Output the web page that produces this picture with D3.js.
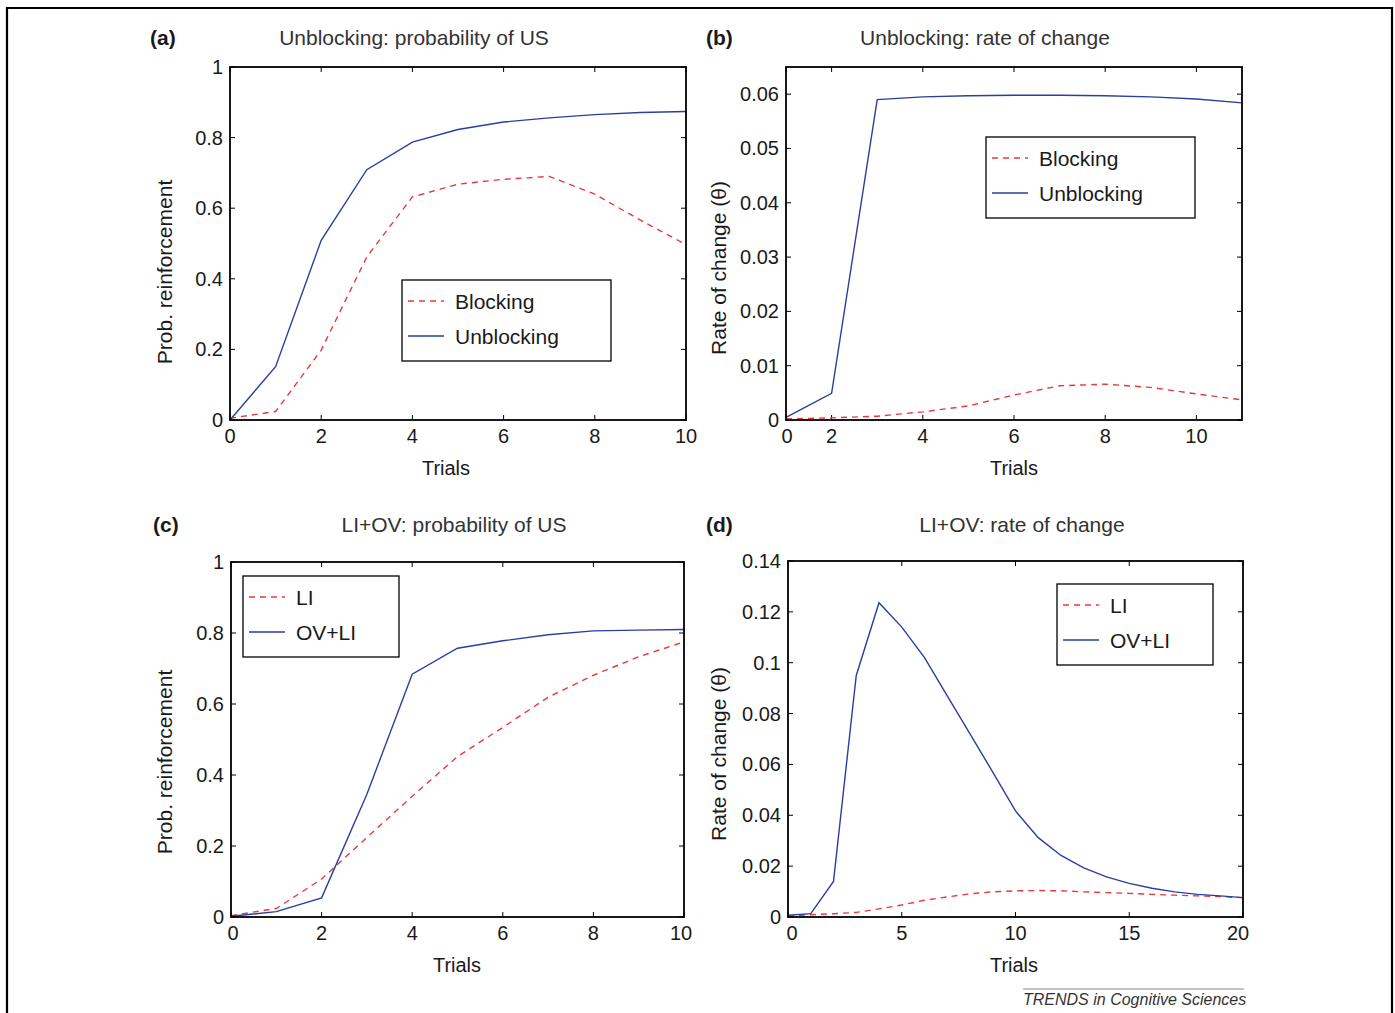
<!DOCTYPE html>
<html><head><meta charset="utf-8">
<script src="https://cdn.jsdelivr.net/npm/d3@7"></script>
<style>
body{margin:0;background:#fff;}
svg text{font-family:"Liberation Sans",Arial,Helvetica,sans-serif;}
</style></head>
<body>
<svg id="chart" width="1395" height="1013"></svg>
<script>
// ---------- DATA ----------
const trialsA = [0,1,2,3,4,5,6,7,8,9,10];
const blockingProb   = [0.005,0.024,0.198,0.462,0.632,0.668,0.682,0.690,0.640,0.566,0.497];
const unblockingProb = [0.000,0.151,0.509,0.709,0.787,0.823,0.844,0.856,0.865,0.871,0.874];

const trialsB = [1,2,3,4,5,6,7,8,9,10,11];
const blockingRate   = [0.0002,0.0004,0.0007,0.0015,0.0026,0.0046,0.0063,0.0066,0.0060,0.0048,0.0037];
const unblockingRate = [0.0005,0.0049,0.0590,0.0595,0.0597,0.0598,0.0598,0.0597,0.0595,0.0591,0.0584];

const trialsC = [0,1,2,3,4,5,6,7,8,9,10];
const liProb   = [0.004,0.024,0.107,0.224,0.340,0.452,0.534,0.619,0.681,0.733,0.775];
const ovliProb = [0.002,0.015,0.054,0.346,0.684,0.757,0.778,0.795,0.806,0.808,0.810];

const trialsD = [0,1,2,3,4,5,6,7,8,9,10,11,12,13,14,15,16,17,18,19,20];
const liRate   = [0.0003,0.0009,0.0013,0.0018,0.0032,0.0047,0.0066,0.0079,0.0091,0.0099,0.0103,0.0104,0.0103,0.0099,0.0096,0.0093,0.0089,0.0086,0.0083,0.0080,0.0076];
const ovliRate = [0.0007,0.0013,0.0140,0.0950,0.1236,0.1140,0.1020,0.0870,0.0720,0.0570,0.0417,0.0312,0.0242,0.0193,0.0158,0.0132,0.0113,0.0099,0.0089,0.0083,0.0076];

const xTicksA = [0,2,4,6,8,10];
const yTicksA = [0,0.2,0.4,0.6,0.8,1];
const yTickLabelsA = ["0","0.2","0.4","0.6","0.8","1"];
const xTicksB = [1,2,4,6,8,10];
const xTickLabelsB = ["0","2","4","6","8","10"];
const yTicksB = [0,0.01,0.02,0.03,0.04,0.05,0.06];
const yTickLabelsB = ["0","0.01","0.02","0.03","0.04","0.05","0.06"];
const xTicksD = [0,5,10,15,20];
const yTicksD = [0,0.02,0.04,0.06,0.08,0.1,0.12,0.14];
const yTickLabelsD = ["0","0.02","0.04","0.06","0.08","0.1","0.12","0.14"];

const RED = "#e8383d", BLUE = "#2a3f9e", TXT = "#1a1a1a";

const svg = d3.select("#chart");

// outer frame (top, left, right)
svg.append("path").attr("d","M7,1013 L7,8 L1392,8 L1392,1013")
  .attr("fill","none").attr("stroke","#000").attr("stroke-width",2.2);

function panel(cfg){
  const g = svg.append("g");
  const x = d3.scaleLinear().domain(cfg.xDomain).range([cfg.left,cfg.right]);
  const y = d3.scaleLinear().domain(cfg.yDomain).range([cfg.bottom,cfg.top]);

  const tl = 5;
  const xTickLabels = cfg.xTickLabels || cfg.xTicks.map(String);
  cfg.xTicks.forEach(v=>{
    const px = x(v);
    g.append("line").attr("x1",px).attr("x2",px).attr("y1",cfg.bottom).attr("y2",cfg.bottom-tl).attr("stroke","#000").attr("stroke-width",1);
    g.append("line").attr("x1",px).attr("x2",px).attr("y1",cfg.top).attr("y2",cfg.top+tl).attr("stroke","#000").attr("stroke-width",1);
  });
  cfg.yTicks.forEach(v=>{
    const py = y(v);
    g.append("line").attr("x1",cfg.left).attr("x2",cfg.left+tl).attr("y1",py).attr("y2",py).attr("stroke","#000").attr("stroke-width",1);
    g.append("line").attr("x1",cfg.right).attr("x2",cfg.right-tl).attr("y1",py).attr("y2",py).attr("stroke","#000").attr("stroke-width",1);
  });

  const n = cfg.xTicks.length;
  cfg.xTicks.forEach((v,i)=>{
    let dx = 0;
    if(i===0) dx = cfg.firstDx||0;
    if(i===n-1) dx = cfg.lastDx||0;
    g.append("text").attr("x",x(v)+dx).attr("y",cfg.bottom+23).attr("text-anchor","middle")
      .attr("font-size",20).attr("fill",TXT).text(xTickLabels[i]);
  });
  cfg.yTicks.forEach((v,i)=>{
    g.append("text").attr("x",cfg.left-7).attr("y",y(v)+7).attr("text-anchor","end")
      .attr("font-size",20).attr("fill",TXT).text(cfg.yTickLabels[i]);
  });

  const line = d3.line().x(d=>x(d[0])).y(d=>y(d[1]));
  cfg.series.forEach(s=>{
    g.append("path").datum(s.xs.map((xv,i)=>[xv,s.ys[i]]))
      .attr("d",line).attr("fill","none").attr("stroke",s.color)
      .attr("stroke-width",1.4).attr("stroke-dasharray",s.dash?"6,5":null);
  });

  g.append("rect").attr("x",cfg.left).attr("y",cfg.top).attr("width",cfg.right-cfg.left)
    .attr("height",cfg.bottom-cfg.top).attr("fill","none").attr("stroke","#000").attr("stroke-width",1.8);

  g.append("text").attr("x",cfg.titleX).attr("y",cfg.titleY).attr("text-anchor","middle")
    .attr("font-size",21).attr("fill","#333").text(cfg.title);
  g.append("text").attr("x",cfg.tagX).attr("y",cfg.titleY).attr("font-size",21)
    .attr("font-weight","bold").attr("fill",TXT).text(cfg.tag);
  g.append("text").attr("x",cfg.xlabX).attr("y",cfg.bottom+55).attr("text-anchor","middle")
    .attr("font-size",20).attr("fill",TXT).text("Trials");
  g.append("text").attr("transform",`translate(${cfg.ylabX},${cfg.ylabY}) rotate(-90)`)
    .attr("text-anchor","middle").attr("font-size",21).attr("fill",TXT).text(cfg.ylab);

  const L = cfg.legend;
  g.append("rect").attr("x",L.x).attr("y",L.y).attr("width",L.w).attr("height",L.h)
    .attr("fill","#fff").attr("stroke","#000").attr("stroke-width",1.3);
  cfg.series.forEach((s,i)=>{
    const ly = L.y + 21 + i*35;
    g.append("line").attr("x1",L.x+6).attr("x2",L.x+42).attr("y1",ly).attr("y2",ly)
      .attr("stroke",s.color).attr("stroke-width",1.4).attr("stroke-dasharray",s.dash?"6,5":null);
    g.append("text").attr("x",L.x+53).attr("y",ly+8).attr("font-size",21).attr("fill",TXT).text(s.name);
  });
}

panel({
  left:230,right:686,top:67,bottom:420,xDomain:[0,10],yDomain:[0,1],
  xTicks:xTicksA,yTicks:yTicksA,yTickLabels:yTickLabelsA,
  title:"Unblocking: probability of US",titleX:414,titleY:45,tag:"(a)",tagX:150,
  ylab:"Prob. reinforcement",ylabX:172,ylabY:272,xlabX:446,
  series:[{name:"Blocking",xs:trialsA,ys:blockingProb,color:RED,dash:true},
          {name:"Unblocking",xs:trialsA,ys:unblockingProb,color:BLUE}],
  legend:{x:402,y:280,w:209,h:81}
});
panel({
  left:786,right:1242,top:67,bottom:420,xDomain:[1,11],yDomain:[0,0.065],
  xTicks:xTicksB,xTickLabels:xTickLabelsB,yTicks:yTicksB,yTickLabels:yTickLabelsB,
  title:"Unblocking: rate of change",titleX:985,titleY:45,tag:"(b)",tagX:706,
  ylab:"Rate of change (\u03b8)",ylabX:726,ylabY:268,xlabX:1014,firstDx:1,
  series:[{name:"Blocking",xs:trialsB,ys:blockingRate,color:RED,dash:true},
          {name:"Unblocking",xs:trialsB,ys:unblockingRate,color:BLUE}],
  legend:{x:986,y:137,w:209,h:81}
});
panel({
  left:231,right:684,top:562,bottom:917,xDomain:[0,10],yDomain:[0,1],
  xTicks:xTicksA,yTicks:yTicksA,yTickLabels:yTickLabelsA,
  title:"LI+OV: probability of US",titleX:454,titleY:532,tag:"(c)",tagX:153,
  ylab:"Prob. reinforcement",ylabX:172,ylabY:762,xlabX:457,firstDx:2,lastDx:-3,
  series:[{name:"LI",xs:trialsC,ys:liProb,color:RED,dash:true},
          {name:"OV+LI",xs:trialsC,ys:ovliProb,color:BLUE}],
  legend:{x:243,y:576,w:156,h:81}
});
panel({
  left:788,right:1243,top:561,bottom:917,xDomain:[0,20],yDomain:[0,0.14],
  xTicks:xTicksD,yTicks:yTicksD,yTickLabels:yTickLabelsD,
  title:"LI+OV: rate of change",titleX:1022,titleY:532,tag:"(d)",tagX:706,
  ylab:"Rate of change (\u03b8)",ylabX:726,ylabY:754,xlabX:1014,firstDx:4,lastDx:-5,
  series:[{name:"LI",xs:trialsD,ys:liRate,color:RED,dash:true},
          {name:"OV+LI",xs:trialsD,ys:ovliRate,color:BLUE}],
  legend:{x:1057,y:584,w:156,h:81}
});

// footer
svg.append("line").attr("x1",1023).attr("x2",1244).attr("y1",989).attr("y2",989)
  .attr("stroke","#888").attr("stroke-width",1);
svg.append("text").attr("x",1023).attr("y",1005).attr("font-size",16).attr("font-style","italic")
  .attr("fill","#333").text("TRENDS in Cognitive Sciences");
</script>
</body></html>
